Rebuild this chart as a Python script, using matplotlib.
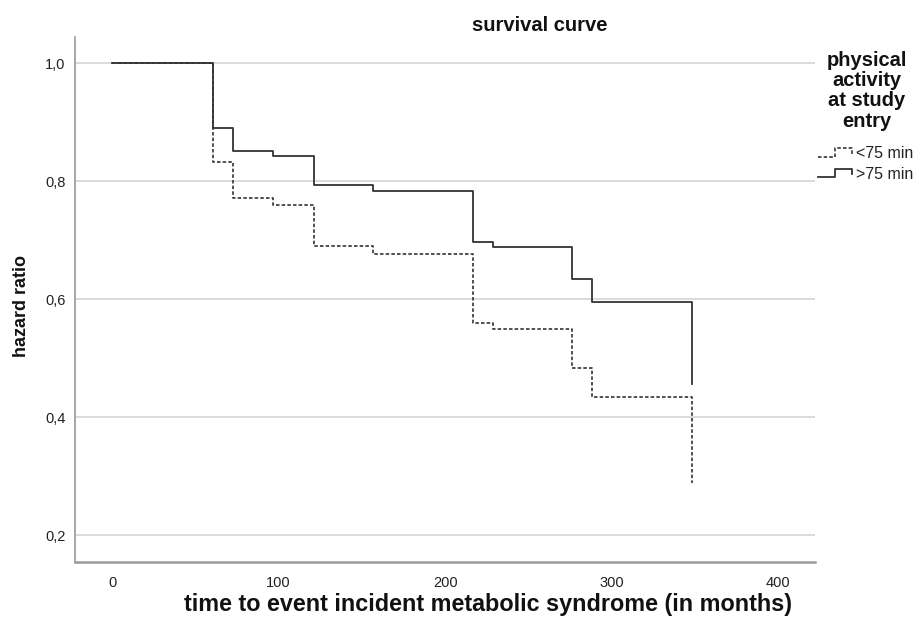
import numpy as np
import matplotlib
matplotlib.use("Agg")
import matplotlib.pyplot as plt
from matplotlib.legend_handler import HandlerBase
from matplotlib.lines import Line2D

plt.rcParams['font.family'] = ['Liberation Sans', 'DejaVu Sans']

# step times (months) and survival estimates
times = [0, 60.5, 72.5, 96.5, 121, 156.5, 217, 229, 276.5, 288.5, 348.5]
surv_low = [1.0, 0.832, 0.772, 0.760, 0.690, 0.676, 0.559, 0.550, 0.484, 0.435, 0.289]
surv_high = [1.0, 0.891, 0.852, 0.8425, 0.793, 0.783, 0.697, 0.689, 0.635, 0.596, 0.4565]
labels = ['<75 min', '>75 min']
legend_title = ['physical', 'activity', 'at study', 'entry']
xticks = [0, 100, 200, 300, 400]
yticks = [0.2, 0.4, 0.6, 0.8, 1.0]


class StepHandler(HandlerBase):
    # legend glyph drawn as a little step, like the SPSS legend
    def create_artists(self, legend, orig, xdescent, ydescent, width, height, fontsize, trans):
        xs = np.array([0, 0.45, 0.45, 0.93, 0.93]) * width - xdescent
        ys = np.array([0.1, 0.1, 0.85, 0.85, 0.4]) * height - ydescent
        line = Line2D(xs, ys)
        line.update_from(orig)
        line.set_drawstyle('default')
        line.set_clip_on(False)
        line.set_clip_box(None)
        line.set_transform(trans)
        return [line]


fig = plt.figure(figsize=(9.17, 6.26), dpi=100)
ax = fig.add_axes([75 / 917, 1 - 562 / 626, 740 / 917, 525 / 626])

l1, = ax.step(times, surv_low, where='post', color='#333333', lw=1.2,
              linestyle=(0, (2.1, 1.3)))
l2, = ax.step(times, surv_high, where='post', color='#333333', lw=1.3)

ax.set_xlim(-22.4, 422.3)
ax.set_ylim(0.1547, 1.0446)
ax.set_xticks(xticks)
ax.set_xticklabels([str(t) for t in xticks])
ax.set_yticks(yticks)
ax.set_yticklabels([('%.1f' % v).replace('.', ',') for v in yticks])
ax.tick_params(axis='both', length=0, labelsize=10.5, colors='#222222')
ax.tick_params(axis='x', pad=10)
ax.tick_params(axis='y', pad=7)
ax.yaxis.grid(True, color='#d4d4d4', lw=1.2)
ax.set_axisbelow(True)
for side in ['top', 'right']:
    ax.spines[side].set_visible(False)
ax.spines['left'].set_color('#9a9a9a')
ax.spines['left'].set_linewidth(1.2)
ax.spines['bottom'].set_color('#9a9a9a')
ax.spines['bottom'].set_linewidth(1.8)

fig.text(540 / 917, 1 - 31 / 626, 'survival curve', ha='center', va='baseline',
         fontsize=14.5, fontweight='bold', color='#111111')
fig.text(488 / 917, 1 - 605 / 626, 'time to event incident metabolic syndrome (in months)',
         ha='center', va='center', fontsize=16.8, fontweight='bold', color='#111111')
fig.text(22 / 917, 1 - 306 / 626, 'hazard ratio', ha='center', va='center', rotation=90,
         fontsize=13, fontweight='bold', color='#111111')

# legend title, one line at a time (SPSS spacing)
for i, line in enumerate(legend_title):
    fig.text(867 / 917, 1 - (60 + 20.4 * i) / 626, line, ha='center', va='center',
             fontsize=14.5, fontweight='bold', color='#111111')

leg = fig.legend([l1, l2], labels, loc='upper left',
                 bbox_to_anchor=(818 / 917, 1 - 146 / 626), frameon=False,
                 fontsize=11.5, handlelength=2.3, handletextpad=0.1,
                 labelspacing=0.35, borderpad=0, borderaxespad=0,
                 handler_map={Line2D: StepHandler()})
for t in leg.get_texts():
    t.set_color('#222222')

fig.savefig('out.png', dpi=100)
